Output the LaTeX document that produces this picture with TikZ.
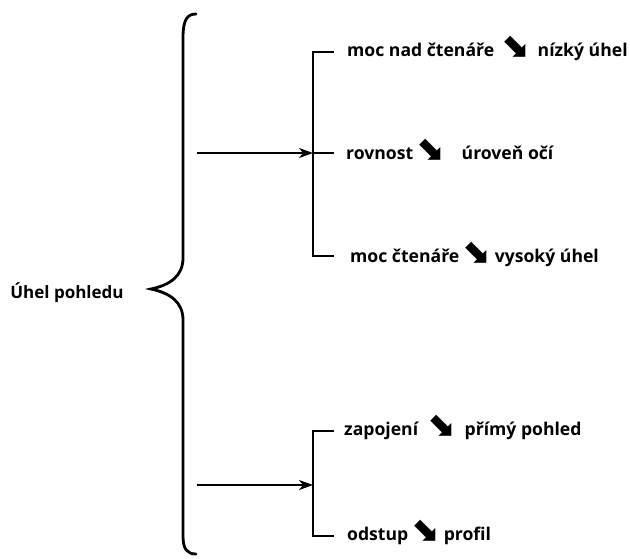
\documentclass[tikz,border=0pt]{standalone}
\usepackage{fontspec}
\setmainfont{Open Sans}
\newfontfamily\sipkafont{DejaVu Sans}
\usetikzlibrary{arrows.meta,calc,positioning}
\newcommand{\sipka}[2]{\hspace{#1}\smash{\sipkafont\fontsize{34}{34}\selectfont\char"2B0A}\hspace{#2}}
\tikzset{
  popis/.style={anchor=west,inner sep=0pt,font=\bfseries\fontsize{17.6}{20}\selectfont},
  vetev/.style={line width=1.5pt,line cap=rect},
  sipek/.style={-{Stealth[length=14pt,width=10pt,inset=4pt]},line width=1.3pt}
}
\begin{document}
\begin{tikzpicture}[x=1pt,y=-1pt]
  \useasboundingbox (0,0) rectangle (630,558);
  % hlavni pojem
  \node[popis,anchor=center,font=\bfseries\fontsize{17}{20}\selectfont] (koren) at (67,293) {Úhel pohledu};
  % slozena zavorka
  \draw[line width=2.8pt,line cap=round]
    (196,14) .. controls (187,14) and (183,20) .. (183,38) -- (183,258)
    .. controls (183,276) and (170,285) .. (151,289)
    .. controls (170,293) and (183,302) .. (183,320) -- (183,536)
    .. controls (183,549) and (187,554) .. (196,554);
  % horni vetev
  \coordinate (h1) at (313,52);
  \coordinate (h2) at (313,256);
  \draw[vetev] (333,52) -- (h1) -- (h2) -- (333,256);
  \draw[vetev] (313,153) -- (333,153);
  \coordinate (hz) at (197,153);
  \draw[sipek] (hz) -- (313,153);
  \node[popis] (a1) at (347,52) {moc nad čtenáře\sipka{6pt}{9pt}nízký úhel};
  \node[popis] (a2) at (346,153) {rovnost\sipka{2pt}{18pt}úroveň očí};
  \node[popis] (a3) at (350,258) {moc čtenáře\sipka{2pt}{5pt}vysoký úhel};
  % dolni vetev
  \coordinate (d1) at (313,431);
  \coordinate (d2) at (313,536);
  \draw[vetev] (333,431) -- (d1) -- (d2) -- (333,536);
  \coordinate (dz) at (197,485);
  \draw[sipek] (dz) -- (313,485);
  \node[popis] (b1) at (344,431) {zapojení\sipka{8pt}{10pt}přímý pohled};
  \node[popis] (b2) at (347,536) {odstup\sipka{2pt}{5pt}profil};
\end{tikzpicture}
\end{document}
